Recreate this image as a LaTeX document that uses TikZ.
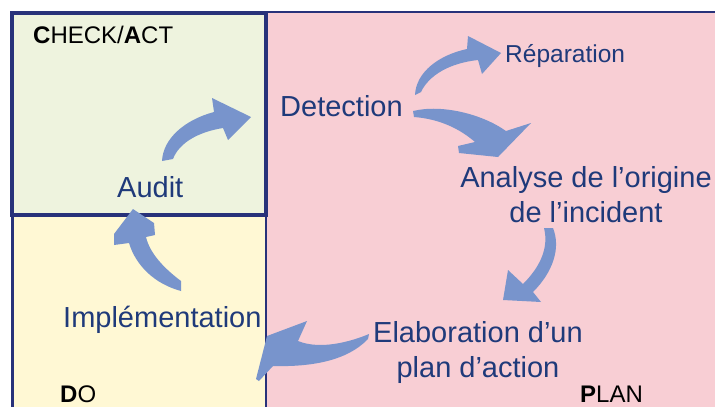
\documentclass[tikz,border=0pt]{standalone}
\usepackage{fontspec}
\setmainfont{Liberation Sans}
\definecolor{pinkbg}{RGB}{248,206,212}
\definecolor{greenbg}{RGB}{238,243,222}
\definecolor{yellowbg}{RGB}{255,248,212}
\definecolor{navy}{RGB}{40,50,122}
\definecolor{arrowblue}{RGB}{120,148,204}
\definecolor{txtblue}{RGB}{31,58,122}
\begin{document}
\begin{tikzpicture}[x=1bp,y=-1bp,
  bigtxt/.style={inner sep=0pt,anchor=base west,text=txtblue,font=\fontsize{29bp}{35bp}\selectfont},
  midtxt/.style={inner sep=0pt,anchor=base west,text=txtblue,font=\fontsize{24.5bp}{29bp}\selectfont},
  zonetxt/.style={inner sep=0pt,anchor=base west,text=black,font=\fontsize{24bp}{28bp}\selectfont},
  blockarrow/.style={fill=arrowblue,draw=none}]
\useasboundingbox (0,0) rectangle (715,407);
% zones
\fill[pinkbg] (267,12) rectangle (715,407);
\draw[navy,line width=2.2bp] (266,12) -- (715,12);
\fill[yellowbg] (12,215) rectangle (266,407);
\draw[navy,line width=2.2bp] (12.5,215) -- (12.5,407);
\draw[navy,line width=2.2bp] (266,215) -- (266,407);
\draw[navy,fill=greenbg,line width=4bp] (12,13) rectangle (266,215);
% zone labels
\node[zonetxt] (check) at (33,43) {\textbf{C}HECK/\textbf{A}CT};
\node[zonetxt] (do) at (60,402) {\textbf{D}O};
\node[zonetxt] (plan) at (580,402) {\textbf{P}LAN};
% step labels
\node[bigtxt] (detection) at (280,116) {Detection};
\node[midtxt] (reparation) at (505,62) {Réparation};
\node[bigtxt,anchor=base] (analyse1) at (586,187) {Analyse de l’origine};
\node[bigtxt,anchor=base] (analyse2) at (586,222) {de l’incident};
\node[bigtxt,anchor=base] (elab1) at (478,342) {Elaboration d’un};
\node[bigtxt,anchor=base] (elab2) at (478,377) {plan d’action};
\node[bigtxt] (impl) at (63,327) {Implémentation};
\node[bigtxt] (audit) at (117,197) {Audit};
% curved block arrows
% Audit -> Detection
\fill[blockarrow] (162,161) .. controls (163,139) and (184,120) .. (214,112)
  -- (212,98) -- (251,117) -- (228,140) -- (223,128)
  .. controls (198,132) and (179,143) .. (173,159) -- cycle;
% Detection -> Reparation
\fill[blockarrow] (415,95) .. controls (416,72) and (439,55) .. (467,49)
  -- (468,36) -- (501,53) -- (482,74) -- (478,60)
  .. controls (450,63) and (429,75) .. (421,92) -- cycle;
% Detection -> Analyse
\fill[blockarrow] (413,111) .. controls (442,104) and (482,114) .. (506,131)
  -- (531,123) -- (498,157) -- (459,153) -- (458,146) -- (475,142)
  .. controls (460,129) and (440,119) .. (414,117) -- cycle;
% Analyse -> Elaboration
\fill[blockarrow] (544,228) .. controls (549,248) and (540,267) .. (523,284)
  -- (508,270) -- (503,300) -- (541,302) -- (533,292)
  .. controls (553,272) and (561,248) .. (553,228) -- cycle;
% Elaboration -> Implementation
\fill[blockarrow] (369,334) .. controls (350,342) and (320,350) .. (298,341)
  -- (307,321) -- (267,336) -- (256,379) -- (259,381) -- (273,366)
  .. controls (311,367) and (347,361) .. (368,339) -- cycle;
% Implementation -> Audit
\fill[blockarrow] (181,281) .. controls (165,269) and (150,254) .. (146,237)
  -- (155,235) -- (154,223) -- (133,209) -- (114,234) -- (114,245) -- (129,243)
  .. controls (136,266) and (155,284) .. (181,291) -- cycle;
\end{tikzpicture}
\end{document}
